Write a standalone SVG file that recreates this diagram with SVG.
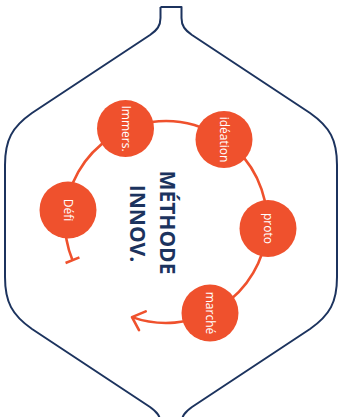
<svg xmlns="http://www.w3.org/2000/svg" width="342" height="417" viewBox="0 0 342 417">
  <style>
    .outline { fill: none; stroke: #1c335e; stroke-width: 2; stroke-linejoin: round; }
    .ring { fill: none; stroke: #ef512d; stroke-width: 2.6; }
    .node circle { fill: #ef512d; }
    .node text { font-family: "Open Sans", "Liberation Sans", sans-serif; font-size: 12px; fill: #ffffff; text-anchor: middle; }
    .title { font-family: "Open Sans", "Liberation Sans", sans-serif; font-size: 21px; font-weight: bold; fill: #1c335e; text-anchor: middle; }
  </style>
  <defs>
    <marker id="arrow" markerUnits="userSpaceOnUse" markerWidth="30" markerHeight="30" refX="0" refY="0" orient="auto" overflow="visible">
      <path d="M-11,-10 L0,0 L-11,10" fill="none" stroke="#ef512d" stroke-width="2.6" stroke-linecap="round" stroke-linejoin="round"/>
    </marker>
    <marker id="tbar" markerUnits="userSpaceOnUse" markerWidth="20" markerHeight="20" refX="0" refY="0" orient="auto" overflow="visible">
      <path d="M0,-7.5 L0,7.5" fill="none" stroke="#ef512d" stroke-width="2.6"/>
    </marker>
  </defs>

  <path class="outline" d="M160.5,7 H181.5 V18 C181.5,26 185,30 192,35 L310,113 C330,127 337,140 337,165 V277 C337,302 330,315 310,329 L192,407 C185,412 181.5,416 181.5,424 M160.5,7 V18 C160.5,26 157,30 150,35 L32,113 C12,127 5,140 5,165 V277 C5,302 12,315 32,329 L150,407 C157,412 160.5,416 160.5,424"/>

  <g id="connectors">
    <path class="ring" d="M72.5,260.2 A101,101 0 1 1 132,317.1" marker-start="url(#tbar)" marker-end="url(#arrow)"/>
  </g>

  <g id="node-immers" class="node">
    <circle cx="125.5" cy="128.5" r="28.5"/>
    <text transform="translate(125.5,128.5) rotate(90)" dy="0.3em">Immers.</text>
  </g>
  <g id="node-ideation" class="node">
    <circle cx="224" cy="139.5" r="28.5"/>
    <text transform="translate(224,139.5) rotate(90)" dy="0.3em">idéation</text>
  </g>
  <g id="node-defi" class="node">
    <circle cx="68" cy="210" r="28.5"/>
    <text transform="translate(68,210) rotate(90)" dy="0.3em">Défi</text>
  </g>
  <g id="node-proto" class="node">
    <circle cx="268" cy="228.5" r="28.5"/>
    <text transform="translate(268,228.5) rotate(90)" dy="0.3em">proto</text>
  </g>
  <g id="node-marche" class="node">
    <circle cx="210" cy="313" r="28.5"/>
    <text transform="translate(210,313) rotate(90)" dy="0.3em">marché</text>
  </g>

  <g id="title">
    <text class="title" transform="translate(160,222.5) rotate(90)">MÉTHODE</text>
    <text class="title" transform="translate(130,223.5) rotate(90)">INNOV.</text>
  </g>
</svg>
